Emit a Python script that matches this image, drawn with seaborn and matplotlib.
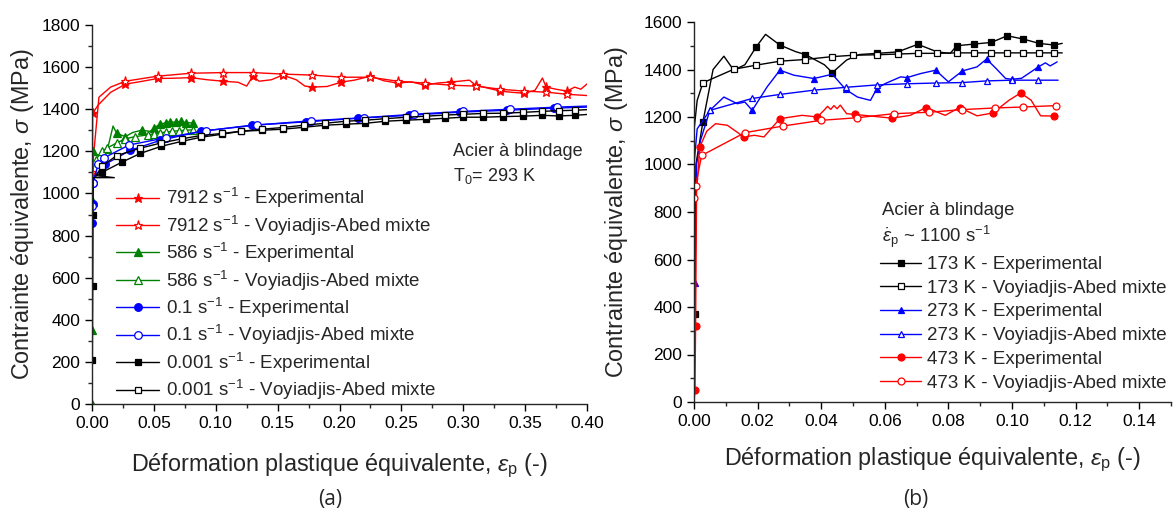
import numpy as np
import matplotlib
matplotlib.use("Agg")
import matplotlib.pyplot as plt
from matplotlib.ticker import MultipleLocator
import seaborn as sns

# ---- (a) T0 = 293 K, different strain rates ----
r_exp_x = [0.0, 0.0002, 0.0005, 0.005, 0.015, 0.027, 0.04, 0.053, 0.065, 0.08, 0.093, 0.106, 0.118, 0.125,
           0.13, 0.135, 0.145, 0.154, 0.165, 0.172, 0.178, 0.19, 0.2016, 0.212, 0.225, 0.236, 0.247, 0.258,
           0.269, 0.28, 0.29, 0.305, 0.31, 0.32, 0.33, 0.34, 0.349, 0.358, 0.364, 0.367, 0.375, 0.384,
           0.39, 0.395, 0.40]
r_exp_y = [0, 700, 1380, 1420, 1480, 1519, 1532, 1546, 1547, 1550, 1540, 1533, 1528, 1510,
           1557, 1533, 1540, 1562, 1540, 1510, 1505, 1508, 1529, 1538, 1557, 1535, 1524, 1530,
           1514, 1525, 1529, 1538, 1514, 1500, 1486, 1480, 1476, 1490, 1548, 1505, 1495, 1486,
           1505, 1495, 1520]
r_exp_m = [2, 5, 7, 9, 11, 14, 17, 20, 22, 24, 26, 28, 30, 32, 34, 36, 39, 41]

r_mod_x = [0.0, 0.0056, 0.015, 0.027, 0.053, 0.08, 0.106, 0.13, 0.154, 0.178, 0.2016, 0.225, 0.247,
           0.269, 0.29, 0.31, 0.33, 0.349, 0.367, 0.384, 0.40]
r_mod_y = [1100, 1457, 1505, 1533, 1557, 1571, 1574, 1574, 1567, 1562, 1552, 1552, 1533,
           1524, 1514, 1510, 1495, 1486, 1481, 1471, 1465]
r_mod_m = [0] + list(range(3, 20))

g_exp_x = [0.0, 0.0003, 0.0006, 0.001, 0.005, 0.0125, 0.017, 0.02, 0.027, 0.033, 0.04, 0.047, 0.05,
           0.055, 0.06, 0.063, 0.068, 0.072, 0.076, 0.0815]
g_exp_y = [0, 350, 960, 1200, 1180, 1210, 1320, 1285, 1270, 1290, 1300, 1295, 1310,
           1330, 1335, 1340, 1338, 1342, 1336, 1335]
g_exp_m = [0, 1, 2, 3, 5, 7, 8, 10, 12, 13, 14, 15, 16, 17, 18, 19]

g_mod_x = [0.0, 0.003, 0.008, 0.012, 0.02, 0.027, 0.035, 0.045, 0.05, 0.055, 0.06, 0.065, 0.07, 0.075, 0.0815]
g_mod_y = [1100, 1160, 1200, 1215, 1240, 1260, 1270, 1278, 1283, 1288, 1292, 1295, 1298, 1300, 1302]
g_mod_m = list(range(1, 15))

b_exp_x = [0.0, 0.0003, 0.0005, 0.0008, 0.002, 0.0105, 0.031, 0.055, 0.088, 0.129, 0.173, 0.215,
           0.256, 0.297, 0.335, 0.373, 0.40]
b_exp_y = [0, 860, 950, 1050, 1080, 1138, 1205, 1252, 1295, 1324, 1340, 1357,
           1371, 1386, 1395, 1405, 1410]
b_exp_m = [1, 2, 3] + list(range(5, 16))

b_mod_x = [0.0, 0.001, 0.005, 0.01, 0.03, 0.06, 0.092, 0.133, 0.177, 0.22, 0.26, 0.30, 0.338, 0.376, 0.40]
b_mod_y = [940, 1050, 1140, 1170, 1230, 1265, 1298, 1325, 1345, 1360, 1376, 1390, 1400, 1410, 1415]
b_mod_m = list(range(0, 14))

k_exp_x = [0.0, 0.0003, 0.0005, 0.0007, 0.001, 0.018, 0.003, 0.008, 0.024, 0.039, 0.056, 0.073, 0.088,
           0.105, 0.12, 0.137, 0.154, 0.171, 0.188, 0.205, 0.221, 0.237, 0.254, 0.27, 0.285, 0.3,
           0.316, 0.332, 0.348, 0.364, 0.377, 0.39, 0.40]
k_exp_y = [0, 210, 560, 900, 1075, 1075, 1085, 1100, 1148, 1190, 1224, 1248, 1267,
           1281, 1295, 1300, 1305, 1314, 1324, 1329, 1333, 1343, 1348, 1352, 1357, 1362,
           1362, 1365, 1367, 1371, 1368, 1371, 1375]
k_exp_m = [1, 2, 3] + list(range(7, 32))

k_mod_x = [0.003, 0.008, 0.02, 0.039, 0.056, 0.073, 0.088, 0.105, 0.12, 0.137, 0.154, 0.171, 0.188,
           0.205, 0.221, 0.237, 0.254, 0.27, 0.285, 0.3, 0.316, 0.332, 0.348, 0.364, 0.377, 0.39, 0.40]
k_mod_y = [1080, 1130, 1180, 1215, 1240, 1260, 1275, 1285, 1295, 1305, 1313, 1324, 1333,
           1343, 1348, 1355, 1362, 1367, 1372, 1376, 1380, 1381, 1385, 1390, 1393, 1395, 1398]
k_mod_m = list(range(1, 26))

# ---- (b) ~1100 s-1, different temperatures ----
t173_exp_x = [0.0, 0.0003, 0.0006, 0.0028, 0.006, 0.0094, 0.0125, 0.016, 0.0196, 0.0225, 0.027, 0.032,
              0.035, 0.041, 0.0435, 0.048, 0.052, 0.0576, 0.064, 0.0704, 0.0765, 0.0806, 0.0826, 0.088,
              0.0935, 0.0985, 0.1036, 0.1085, 0.1132, 0.1158]
t173_exp_y = [0, 370, 1000, 1179, 1400, 1456, 1397, 1420, 1496, 1548, 1503, 1475,
              1463, 1420, 1387, 1440, 1463, 1468, 1474, 1506, 1474, 1468, 1500, 1507,
              1514, 1542, 1528, 1510, 1503, 1510]
t173_exp_m = [1, 3, 8, 10, 12, 14, 17, 18, 19, 22, 23, 24, 25, 26, 27, 28]

t173_mod_x = [0.0, 0.001, 0.0028, 0.0125, 0.0194, 0.027, 0.0348, 0.0433, 0.05, 0.0574, 0.064, 0.0704,
              0.0765, 0.0826, 0.088, 0.0935, 0.0985, 0.1036, 0.1085, 0.1132, 0.1158]
t173_mod_y = [1144, 1270, 1344, 1401, 1418, 1435, 1442, 1454, 1460, 1462, 1465, 1468,
              1468, 1470, 1470, 1470, 1470, 1470, 1470, 1470, 1470]
t173_mod_m = list(range(2, 20))

t273_exp_x = [0.0, 0.0003, 0.0008, 0.002, 0.005, 0.0094, 0.0136, 0.016, 0.0183, 0.023, 0.027, 0.0314,
              0.0377, 0.0435, 0.0477, 0.0514, 0.0555, 0.0575, 0.06, 0.065, 0.067, 0.0713, 0.076, 0.08,
              0.0844, 0.089, 0.092, 0.095, 0.098, 0.1, 0.103, 0.1083, 0.1105, 0.112, 0.1142]
t273_exp_y = [0, 500, 1000, 1100, 1228, 1284, 1256, 1263, 1228, 1327, 1397, 1376,
              1362, 1380, 1316, 1284, 1270, 1320, 1340, 1369, 1366, 1383, 1397, 1348,
              1394, 1411, 1444, 1404, 1362, 1359, 1363, 1411, 1428, 1415, 1432]
t273_exp_m = [1, 4, 8, 10, 12, 14, 17, 20, 22, 24, 26, 29, 31]

t273_mod_x = [0.0, 0.001, 0.005, 0.0183, 0.027, 0.0377, 0.0477, 0.0575, 0.067, 0.076, 0.0844, 0.092,
              0.1, 0.1083, 0.1145]
t273_mod_y = [1000, 1150, 1228, 1278, 1295, 1313, 1325, 1335, 1340, 1343, 1345, 1352, 1355, 1355, 1355]
t273_mod_m = list(range(2, 14))

t473_exp_x = [0.0, 0.0003, 0.0005, 0.0008, 0.0018, 0.004, 0.0068, 0.0105, 0.0157, 0.019, 0.022, 0.027,
              0.034, 0.0388, 0.041, 0.042, 0.043, 0.044, 0.045, 0.046, 0.048, 0.0505, 0.0623, 0.068,
              0.073, 0.079, 0.0835, 0.089, 0.094, 0.099, 0.1027, 0.106, 0.109, 0.1132]
t473_exp_y = [0, 50, 320, 880, 1073, 1140, 1172, 1165, 1116, 1123, 1116, 1193,
              1207, 1200, 1230, 1245, 1232, 1248, 1235, 1250, 1214, 1211, 1195, 1207,
              1240, 1207, 1240, 1205, 1217, 1270, 1301, 1271, 1205, 1204]
t473_exp_m = [1, 2, 4, 8, 11, 13, 21, 22, 24, 26, 28, 30, 33]

t473_mod_x = [0.0, 0.0005, 0.0024, 0.016, 0.028, 0.04, 0.0514, 0.0629, 0.074, 0.0842, 0.0945, 0.1034, 0.1139]
t473_mod_y = [860, 910, 1038, 1134, 1162, 1186, 1197, 1214, 1220, 1231, 1238, 1242, 1248]
t473_mod_m = list(range(0, 13))


sns.set_style("ticks")
plt.rcParams['font.family'] = ['Liberation Sans', 'DejaVu Sans']
plt.rcParams['mathtext.fontset'] = 'custom'
plt.rcParams['mathtext.rm'] = 'Liberation Sans'
plt.rcParams['mathtext.it'] = 'Liberation Sans:italic'
plt.rcParams['axes.linewidth'] = 1.0


def draw(ax, x, y, color, marker, filled, marks, label, ms=5):
    sns.lineplot(x=x, y=y, ax=ax, estimator=None, sort=False, color=color, linewidth=1.0,
                 marker=marker, markersize=ms, markevery=marks,
                 markerfacecolor=color if filled else 'white',
                 markeredgecolor=color, markeredgewidth=0.9, label=label)


fig = plt.figure(figsize=(11.76, 5.19), dpi=100)
ax1 = fig.add_axes([92 / 1176, 1 - 404 / 519, (587 - 92) / 1176, (404 - 25) / 519])
ax2 = fig.add_axes([694 / 1176, 1 - 402 / 519, (1171 - 694) / 1176, (402 - 22) / 519])

s = ' s$^{-1}$'
draw(ax1, r_exp_x, r_exp_y, 'red', '*', True, r_exp_m, '7912' + s + ' - Experimental', 6.5)
draw(ax1, r_mod_x, r_mod_y, 'red', '*', False, r_mod_m, '7912' + s + ' - Voyiadjis-Abed mixte', 6.5)
draw(ax1, g_exp_x, g_exp_y, 'green', '^', True, g_exp_m, '586' + s + ' - Experimental', 5.5)
draw(ax1, g_mod_x, g_mod_y, 'green', '^', False, g_mod_m, '586' + s + ' - Voyiadjis-Abed mixte', 5.5)
draw(ax1, b_exp_x, b_exp_y, 'blue', 'o', True, b_exp_m, '0.1' + s + ' - Experimental', 5.5)
draw(ax1, b_mod_x, b_mod_y, 'blue', 'o', False, b_mod_m, '0.1' + s + ' - Voyiadjis-Abed mixte', 5.5)
draw(ax1, k_exp_x, k_exp_y, 'black', 's', True, k_exp_m, '0.001' + s + ' - Experimental', 5)
draw(ax1, k_mod_x, k_mod_y, 'black', 's', False, k_mod_m, '0.001' + s + ' - Voyiadjis-Abed mixte', 5)

draw(ax2, t173_exp_x, t173_exp_y, 'black', 's', True, t173_exp_m, '173 K - Experimental', 4.5)
draw(ax2, t173_mod_x, t173_mod_y, 'black', 's', False, t173_mod_m, '173 K - Voyiadjis-Abed mixte', 4.5)
draw(ax2, t273_exp_x, t273_exp_y, 'blue', '^', True, t273_exp_m, '273 K - Experimental', 5)
draw(ax2, t273_mod_x, t273_mod_y, 'blue', '^', False, t273_mod_m, '273 K - Voyiadjis-Abed mixte', 5)
draw(ax2, t473_exp_x, t473_exp_y, 'red', 'o', True, t473_exp_m, '473 K - Experimental', 5)
draw(ax2, t473_mod_x, t473_mod_y, 'red', 'o', False, t473_mod_m, '473 K - Voyiadjis-Abed mixte', 5)

ax1.set_xlim(0, 0.40)
ax1.set_ylim(0, 1800)
ax1.xaxis.set_major_locator(MultipleLocator(0.05))
ax1.xaxis.set_minor_locator(MultipleLocator(0.025))
ax1.yaxis.set_major_locator(MultipleLocator(200))
ax1.yaxis.set_minor_locator(MultipleLocator(100))
ax1.xaxis.set_major_formatter(matplotlib.ticker.FormatStrFormatter('%.2f'))

ax2.set_xlim(0, 0.15)
ax2.set_ylim(0, 1600)
ax2.xaxis.set_major_locator(MultipleLocator(0.02))
ax2.xaxis.set_minor_locator(MultipleLocator(0.01))
ax2.yaxis.set_major_locator(MultipleLocator(200))
ax2.yaxis.set_minor_locator(MultipleLocator(100))
ax2.xaxis.set_major_formatter(matplotlib.ticker.FormatStrFormatter('%.2f'))

xlab = 'Déformation plastique équivalente, $\\varepsilon_{\\mathrm{p}}$ (-)'
ylab = 'Contrainte équivalente, $\\sigma$ (MPa)'
for ax in (ax1, ax2):
    sns.despine(ax=ax)
    ax.tick_params(which='major', direction='out', length=5, width=1, labelsize=12.5, colors='black')
    ax.tick_params(which='minor', direction='out', length=3, width=1)
ax1.set_xlabel(xlab, fontsize=16.8, labelpad=15)
ax2.set_xlabel(xlab, fontsize=16.8, labelpad=12)
ax1.set_ylabel(ylab, fontsize=16.8, labelpad=4)
ax2.set_ylabel(ylab, fontsize=16.8, labelpad=10)

ax1.legend(loc='upper left', bbox_to_anchor=(116 / 1176, 1 - 186 / 519), bbox_transform=fig.transFigure,
           frameon=False, fontsize=13.5, handlelength=2.3, handletextpad=0.35, labelspacing=0.18,
           borderpad=0, borderaxespad=0)
ax2.legend(loc='upper left', bbox_to_anchor=(880 / 1176, 1 - 256 / 519), bbox_transform=fig.transFigure,
           frameon=False, fontsize=13.5, handlelength=2.2, handletextpad=0.3, labelspacing=0.35,
           borderpad=0, borderaxespad=0)

fig.text(453 / 1176, 1 - 152 / 519, 'Acier à blindage', fontsize=13, va='center')
fig.text(453 / 1176, 1 - 176 / 519, 'T$_0$= 293 K', fontsize=13, va='center')
fig.text(882 / 1176, 1 - 211 / 519, 'Acier à blindage', fontsize=13.3, va='center')
fig.text(882 / 1176, 1 - 237 / 519, '$\\dot{\\varepsilon}_{\\mathrm{p}}$ ~ 1100 s$^{-1}$', fontsize=13.3, va='center')

fig.text(330 / 1176, 1 - 500 / 519, '(a)', fontsize=15, ha='center', va='center', family=['Open Sans', 'DejaVu Sans'])
fig.text(916 / 1176, 1 - 500 / 519, '(b)', fontsize=15, ha='center', va='center', family=['Open Sans', 'DejaVu Sans'])

fig.savefig('out.png', dpi=100)
